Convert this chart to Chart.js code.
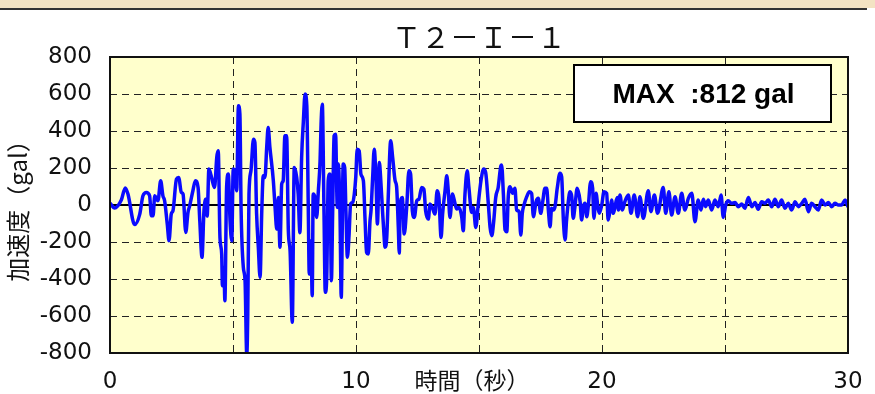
<!DOCTYPE html>
<html>
<head>
<meta charset="utf-8">
<script src="https://cdn.jsdelivr.net/npm/chart.js@4.4.1/dist/chart.umd.min.js"></script>
<style>
  html, body { margin: 0; padding: 0; background: #fff; }
  #wrap { width: 875px; height: 394px; position: relative; }
</style>
</head>
<body>
<div id="wrap"><canvas id="accChart"></canvas></div>
<script>
// waveform (time in s, acceleration in gal)
const timeSec = [
  0, 0.19, 0.46, 0.62, 0.73, 1.00, 1.21, 1.34, 1.48, 1.61, 1.68, 1.75, 1.82, 1.95, 2.06, 2.15, 2.22, 2.33, 2.40, 2.49,
  2.56, 2.70, 2.79, 2.90, 2.97, 3.08, 3.17, 3.24, 3.37, 3.47, 3.58, 3.65, 3.74, 3.82, 3.91, 3.95,
  4.02, 4.13, 4.24, 4.27, 4.34, 4.40, 4.47, 4.54, 4.57, 4.63, 4.67, 4.74, 4.81, 4.88, 4.95, 5.01, 5.08, 5.15, 5.22, 5.28,
  5.33, 5.42, 5.49, 5.56, 5.60, 5.65, 5.73, 5.83, 5.89, 5.96, 6.03, 6.10, 6.17, 6.23, 6.30, 6.37, 6.43, 6.50, 6.64, 6.71,
  6.78, 6.84, 6.91, 6.98, 7.04, 7.11, 7.18, 7.25, 7.32, 7.41, 7.49, 7.59, 7.65, 7.72, 7.79, 7.86, 7.93, 8.00,
  8.06, 8.10, 8.17, 8.22, 8.26, 8.33, 8.40, 8.47, 8.54, 8.58, 8.63, 8.70, 8.75, 8.81, 8.87, 8.94, 9.00, 9.05, 9.11, 9.17,
  9.24, 9.28, 9.35, 9.40, 9.48, 9.54, 9.59, 9.65, 9.72, 9.78, 9.87, 9.93, 9.99, 10.05, 10.13, 10.20, 10.30, 10.37, 10.43, 10.50,
  10.57, 10.61, 10.68, 10.74, 10.81, 10.87, 10.95, 11.00, 11.07, 11.14, 11.18, 11.25, 11.31, 11.41, 11.49, 11.59, 11.65, 11.72, 11.76,
  11.79, 11.88, 11.96, 12.06, 12.15, 12.22, 12.29, 12.37, 12.47, 12.56, 12.67, 12.76, 12.83, 12.94, 13.01, 13.10, 13.21, 13.30, 13.37, 13.46,
  13.52, 13.62, 13.69, 13.75, 13.82, 13.92, 14.00, 14.09, 14.19, 14.30, 14.36, 14.43, 14.52, 14.59, 14.70, 14.77, 14.87, 14.97, 15.08, 15.19,
  15.27, 15.38, 15.45, 15.52, 15.60, 15.68, 15.78, 15.89,
  15.92, 15.99, 16.06, 16.13, 16.19, 16.26, 16.37, 16.46, 16.53, 16.63, 16.70, 16.76, 16.83, 16.94, 17.05, 17.14, 17.21, 17.32, 17.41, 17.51,
  17.59, 17.68, 17.75, 17.82, 17.89, 17.95, 18.02, 18.09, 18.18, 18.29, 18.36, 18.43, 18.50, 18.56, 18.63, 18.70, 18.77, 18.83, 18.90, 18.99,
  19.11, 19.17, 19.24, 19.31, 19.38, 19.44, 19.54, 19.62, 19.67, 19.76, 19.83, 19.89, 19.99, 20.08, 20.19, 20.25, 20.33, 20.39, 20.46, 20.53,
  20.62, 20.67, 20.73, 20.83, 20.93, 21.07, 21.18, 21.31, 21.45, 21.54, 21.68, 21.88, 21.99, 22.13, 22.26, 22.49, 22.59, 22.72, 22.83, 22.97,
  23.10, 23.24, 23.37, 23.51, 23.65, 23.78, 23.91, 24.02, 24.12, 24.21, 24.32, 24.46, 24.59, 24.73, 24.84, 24.93, 25.03, 25.13, 25.27, 25.41,
  25.54, 25.68, 25.81, 25.95, 26.09, 26.22, 26.35, 26.49, 26.63, 26.76, 26.90, 27.03, 27.17, 27.30, 27.44, 27.57, 27.71, 27.85, 27.98, 28.12,
  28.25, 28.39, 28.52, 28.66, 28.79, 28.93, 29.07, 29.20, 29.34, 29.47, 29.61, 29.74, 29.88, 30.00
];
const accelGal = [
  10, -16, 27, 92, 59, -106, -49, 50, 68, 50, -58, -58, 50, 23, 131, 50, 23, -106, -193, -49,
  -31, 140, 149, 68, 59, -148, -40, -4, 77, 131, 95, -85, -283, -31, 32, -60,
  194, 149, 95, 113, 257, 293, -175, -265, -436, -337, -517, 95, 167, -85, -193, 194, 185, 77, 536, 491,
  -31, -337, -409, -812, -589, 59, 185, 356, 338, -49, -229, -391, -31, 158, 149, 311, 419, 311, 131, -13,
  -130, 41, -229, 113, 131, 374, 374, -139, -247, -634, 203, 149, 59, -150, 257, 450, 600, 536,
  -13, -373, -193, -490, 59, 41, -67, 77, 239, 437, 545, -49, -472, -391, 131, 167, -409, -49, 374, 383,
  -13, 221, -49, -499, 221, 203, -31, -283, -157, 5, 14, 59, 149, 302, 293, 167, 131, -85, -256, -265,
  -85, -31, 158, 302, 149, -103, 230, 149, -13, -166, -229, -175, 41, 347, 257, 131, 100, -121, -260,
  -13, 41, -157, -13, 185, 167, -31, -67, 23, 32, 95, 86, -31, -76, 5, -13, -49, 77, 41, -175,
  -49, 77, 158, 77, -67, 59, 23, -22, -13, -67, -139, 59, 185, 95, -40, -13, -121, 5, 131, 194,
  176, 5, -121, -166, -85, 41, 95, 212,
  216, 63, -135, -144, 45, 99, 63, 90, -27, -36, -162, -45, 0, 45, 72, 63, -63, 18, 36, -45,
  18, 90, 90, -27, -117, -18, -27, -9, 90, 171, 153, -81, -189, -81, 18, 72, 45, -72, -9, 90,
  18, -81, -9, 9, -63, -9, 126, 90, -72, 63, -9, -45, 0, 72, 63, -81, -27, 27, -45, -9,
  40, -27, 54, -27, 18, 54, -45, 54, -63, 45, -72, 77, -36, 54, -45, 95, -45, 72, -54, 45,
  -45, 63, -27, 36, 63, -90, 27, -27, 31, -9, 27, -27, 27, -9, 54, -67, 0, 23, 9, 13,
  -9, 5, -18, 41, -9, 13, -23, 18, 9, 27, -9, 31, -9, 27, -18, 9, -27, 18, -9, 9,
  31, -36, 9, -9, -27, 27, 0, 13, -9, 9, 0, 0, 27, -9
];

const chartTitle = 'Ｔ２－Ｉ－１';
const xAxisTitle = '時間（秒）';
const yAxisTitle = '加速度（gal）';
const maxLabel = 'MAX  :812 gal';
const xTickLabels = [0, 10, 20, 30];
const yTickValues = [-800, -600, -400, -200, 0, 200, 400, 600, 800];

const tickFont = { family: 'DejaVu Sans', size: 23 };
const jpFont = "'Noto Sans CJK JP', sans-serif";

// page strip, plot background, zero line, frame, titles and the MAX box
const decoPlugin = {
  id: 'deco',
  beforeDraw(chart) {
    const ctx = chart.ctx;
    const a = chart.chartArea;
    ctx.save();
    ctx.fillStyle = '#f3e3c3';
    ctx.fillRect(0, 0, chart.width, 8);
    ctx.fillStyle = '#333';
    ctx.fillRect(0, 8, chart.width - 8, 2);
    ctx.fillStyle = '#ffffcc';
    ctx.fillRect(a.left, a.top, a.right - a.left, a.bottom - a.top);
    ctx.restore();
  },
  beforeDatasetsDraw(chart) {
    const ctx = chart.ctx;
    const a = chart.chartArea;
    const y0 = chart.scales.y.getPixelForValue(0);
    ctx.save();
    ctx.strokeStyle = '#000';
    ctx.lineWidth = 2;
    ctx.beginPath();
    ctx.moveTo(a.left, y0);
    ctx.lineTo(a.right, y0);
    ctx.stroke();
    ctx.restore();
  },
  afterDraw(chart) {
    const ctx = chart.ctx;
    const a = chart.chartArea;
    ctx.save();
    ctx.strokeStyle = '#111';
    ctx.lineWidth = 2;
    ctx.strokeRect(a.left, a.top, a.right - a.left, a.bottom - a.top);

    ctx.fillStyle = '#111';
    ctx.textAlign = 'center';
    ctx.textBaseline = 'middle';
    ctx.font = '29px ' + jpFont;
    ctx.fillText(chartTitle, (a.left + a.right) / 2, 37);

    ctx.font = '23px ' + jpFont;
    ctx.fillText(xAxisTitle, 472, 380);

    // MAX box
    const bx = a.right - 274, by = a.top + 8, bw = 257, bh = 57;
    ctx.fillStyle = '#fff';
    ctx.fillRect(bx, by, bw, bh);
    ctx.lineWidth = 2;
    ctx.strokeStyle = '#000';
    ctx.strokeRect(bx, by, bw, bh);
    ctx.fillStyle = '#000';
    ctx.font = 'bold 28px "Liberation Sans", Arial, sans-serif';
    ctx.fillText(maxLabel, bx + bw / 2 + 1, by + bh / 2 + 2);
    ctx.restore();
  }
};

const ctx = document.getElementById('accChart').getContext('2d');
new Chart(ctx, {
  type: 'line',
  data: {
    datasets: [{
      label: 'T2-I-1',
      data: timeSec.map((t, i) => ({ x: t, y: accelGal[i] })),
      borderColor: '#0a0aff',
      borderWidth: 3.5,
      borderJoinStyle: 'round',
      borderCapStyle: 'round',
      cubicInterpolationMode: 'monotone',
      pointRadius: 0,
      fill: false
    }]
  },
  options: {
    responsive: true,
    maintainAspectRatio: false,
    animation: false,
    layout: { padding: { top: 57, right: 27, left: 0, bottom: 0 } },
    plugins: {
      legend: { display: false },
      tooltip: { enabled: false },
      title: { display: false }
    },
    scales: {
      x: {
        type: 'linear',
        min: 0,
        max: 30,
        afterFit(scale) {
          scale.height = 41;
          scale.paddingLeft = 0;
          scale.paddingRight = 0;
        },
        ticks: {
          stepSize: 5,
          autoSkip: false,
          maxRotation: 0,
          padding: 15,
          color: '#111',
          font: tickFont,
          callback: v => xTickLabels.includes(v) ? String(v) : ''
        },
        grid: { color: '#222', lineWidth: 1, drawTicks: false },
        border: { display: false, dash: [7, 5] }
      },
      y: {
        min: -800,
        max: 800,
        afterFit(scale) { scale.width = 110; },
        afterBuildTicks(scale) { scale.ticks = yTickValues.map(v => ({ value: v })); },
        ticks: {
          padding: 18,
          color: '#111',
          font: tickFont
        },
        title: {
          display: true,
          text: yAxisTitle,
          color: '#111',
          font: { family: jpFont, size: 24 },
          padding: { top: 3, bottom: 0 }
        },
        grid: { color: '#222', lineWidth: 1, drawTicks: false },
        border: { display: false, dash: [7, 5] }
      }
    }
  },
  plugins: [decoPlugin]
});
</script>
</body>
</html>
